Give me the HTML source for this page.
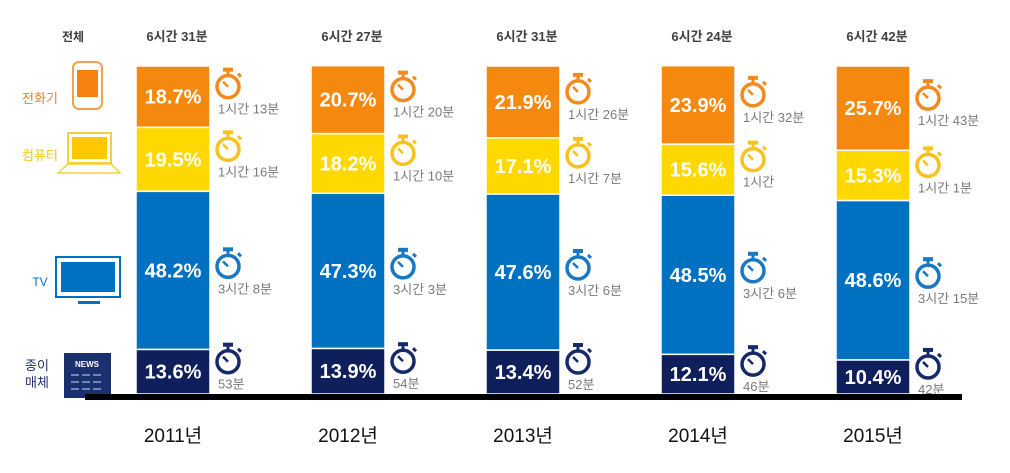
<!DOCTYPE html>
<html><head><meta charset="utf-8"><style>
body{margin:0;background:#fff;width:1010px;height:468px;overflow:hidden;font-family:"Liberation Sans","Noto Sans CJK KR",sans-serif}
</style></head><body>
<svg id="c" width="1010" height="468" style="font-family:'Liberation Sans','Noto Sans CJK KR',sans-serif">
<text x="73" y="41" font-size="12" font-weight="bold" fill="#404040" text-anchor="middle">전체</text>
<g>
<text x="40" y="103" font-size="13" fill="#F0821E" text-anchor="middle">전화기</text>
<rect x="73" y="62" width="29" height="47" rx="6" fill="none" stroke="#F5A04A" stroke-width="2"/>
<rect x="77" y="70" width="21" height="27" fill="#F5820F"/>
</g>
<g>
<text x="40" y="160" font-size="13" fill="#F5C518" text-anchor="middle">컴퓨터</text>
<rect x="68" y="133" width="43" height="30" fill="none" stroke="#F7CF3A" stroke-width="2"/>
<rect x="72" y="137" width="35" height="22" fill="#FFC800"/>
<path d="M58 173 L68 164 L111 164 L120 173 Z" fill="none" stroke="#F7CF3A" stroke-width="1.5"/>
</g>
<g>
<text x="40" y="286" font-size="12" fill="#0070C0" text-anchor="middle">TV</text>
<rect x="56" y="257" width="64" height="40" fill="none" stroke="#0070C0" stroke-width="2"/>
<rect x="61" y="262" width="54" height="30" fill="#0070C0"/>
<rect x="78" y="301" width="22" height="3" fill="#0070C0"/>
</g>
<g>
<text x="37" y="370" font-size="13" fill="#203070" text-anchor="middle">종이</text>
<text x="37" y="387" font-size="13" fill="#203070" text-anchor="middle">매체</text>
<rect x="64" y="353" width="47" height="45" fill="#1A2F6E"/>
<text x="87" y="367" font-size="8" font-weight="bold" fill="#fff" text-anchor="middle">NEWS</text>
<path d="M71 375h33M71 382h33M71 389h33" stroke="#8FA0C8" stroke-width="1.5" stroke-dasharray="8 3"/>
</g>
<g id="bars"></g>
<rect x="85" y="394" width="877" height="6" fill="#000"/>
</svg>
<script>
const years=["2011년","2012년","2013년","2014년","2015년"];
const totals=["6시간 31분","6시간 27분","6시간 31분","6시간 24분","6시간 42분"];
const paper=[13.6,13.9,13.4,12.1,10.4];
const tv=[48.2,47.3,47.6,48.5,48.6];
const computer=[19.5,18.2,17.1,15.6,15.3];
const phone=[18.7,20.7,21.9,23.9,25.7];
const paperTime=["53분","54분","52분","46분","42분"];
const tvTime=["3시간 8분","3시간 3분","3시간 6분","3시간 6분","3시간 15분"];
const computerTime=["1시간 16분","1시간 10분","1시간 7분","1시간","1시간 1분"];
const phoneTime=["1시간 13분","1시간 20분","1시간 26분","1시간 32분","1시간 43분"];
const NS="http://www.w3.org/2000/svg";
const g=document.getElementById('bars');
const x0=136,step=175,bw=74,base=394,H=328;
const yv=v=>base-v/100*H;
function mk(t,a,p){const e=document.createElementNS(NS,t);for(const k in a)e.setAttribute(k,a[k]);(p||g).appendChild(e);return e;}
const series=[{d:paper,t:paperTime,c:"#0E1F5C",ic:"#16296A",n:"paper"},{d:tv,t:tvTime,c:"#0070C0",ic:"#1A78C2",n:"tv"},{d:computer,t:computerTime,c:"#FFD800",ic:"#F8C21E",n:"computer"},{d:phone,t:phoneTime,c:"#F5890F",ic:"#F28A1E",n:"phone"}];
years.forEach((yr,i)=>{
 const x=x0+i*step;
 const yl=mk('text',{x:x+bw/2,y:442,'font-size':19,fill:'#111','text-anchor':'middle'});yl.textContent=yr;
 
 
 const tt=mk('text',{x:x+bw/2+4,y:41,'font-size':13,'font-weight':'bold',fill:'#404040','text-anchor':'middle'});tt.textContent=totals[i];
 
 
 let cum=0;
 series.forEach(s=>{
  const v=s.d[i];const top=yv(cum+v),bot=yv(cum);cum+=v;
  const r=mk('rect',{x:x,y:top,width:bw,height:bot-top,fill:s.c,stroke:'#fff','stroke-width':1.5});
  
  
  const mid=(top+bot)/2;
  const pl=mk('text',{x:x+bw/2,y:mid+7,'font-size':20,'font-weight':'bold',fill:'#fff','text-anchor':'middle'});pl.textContent=v.toFixed(1)+'%';
  
  
  const off=(bot-top)>100?6:0;
  const cx=x+bw+18,cy=mid-10+off;
  const ic=mk('g',{});
  
  
  mk('circle',{cx:cx,cy:cy,r:11,fill:'none',stroke:s.ic,'stroke-width':3.5},ic);
  mk('rect',{x:cx-5,y:cy-19,width:10,height:4,fill:s.ic},ic);
  mk('rect',{x:cx-1.5,y:cy-16,width:3,height:4,fill:s.ic},ic);
  mk('line',{x1:cx,y1:cy,x2:cx-5,y2:cy-5,stroke:s.ic,'stroke-width':2.5},ic);
  mk('line',{x1:cx+10,y1:cy-13,x2:cx+13,y2:cy-10,stroke:s.ic,'stroke-width':3},ic);
  const tl=mk('text',{x:x+bw+8,y:mid+17+off,'font-size':13,fill:'#7a7a7a'});tl.textContent=s.t[i];
  
  
 });
});
</script>
</body></html>
